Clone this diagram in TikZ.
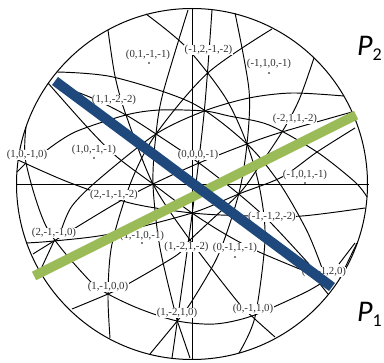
\documentclass[tikz,border=0pt]{standalone}
\usepackage{fontspec}
\setmainfont{Liberation Serif}
\newfontfamily\plane{Carlito}
\definecolor{blue1}{HTML}{1F497D}
\definecolor{green1}{HTML}{9BBB59}
\tikzset{
  arc/.style={draw=black,line width=0.95pt,smooth,tension=0.5},
  lab/.style={fill=white,text=black!80,font=\fontsize{10.8}{10.8}\selectfont,inner sep=0.3pt,text height=7pt,text depth=2pt},
  pt/.style={fill=black,circle,inner sep=0pt,minimum size=1.6pt},
  plane/.style={font=\fontsize{30}{30}\selectfont\plane,inner sep=0pt,text=black},
  blueband/.style={draw=blue1,line width=10pt},
  greenband/.style={draw=green1,line width=9.5pt}
}
\begin{document}
\begin{tikzpicture}[x=1pt,y=-1pt]
\useasboundingbox (0,0) rectangle (384,363);
\draw[line width=1pt] (192,184) circle[radius=175.5];
% straight axes
\draw[line width=1pt] (17,184.5) -- (369,184.5);
\draw[line width=1pt] (192.5,8.5) -- (192.5,359.5);
% arcs
\draw[arc] plot coordinates {(235,13)(249,90)(247,144)(238.7,194)(218.7,254)(192,301)(177.3,321)};
\draw[arc] plot coordinates {(212,10)(204.3,111)(192.3,212.7)(177.3,321)(172,358)};
\draw[arc] plot coordinates {(108,30)(115,76)(126,115)(153,184)(190,240)(237,301)(252.7,317)(275,337)};
\draw[arc] plot coordinates {(47,150)(75,132)(126,115)(160,110)(204.3,111)(229,116)(269,125)(317,152)(355,182)(367,197)};
\draw[arc] plot coordinates {(57,72)(113,77)(192,103)(247,144)(280,184)(307,231)(322,268)};
\draw[arc] plot coordinates {(146,14)(186,47)(225,97)(247,144)(260,190)(265,240)(255,317)(239,353)};
\draw[arc] plot coordinates {(188,10)(163,93)(156,134)(153,184)(160,248)(177.3,321)};
\draw[arc] plot coordinates {(272,29)(207.7,73)(156,134)(131,182)(112,244)(108,294)(110,338)};
\draw[arc] plot coordinates {(62,228)(72,206)(98,180)(156,134)(204.3,111)(249,98)(292,93)(344,96)};
\draw[arc] plot coordinates {(48,83)(88,128)(117,157)(153,184)(192,213)(225,234)(257,251)(302,270)};
\draw[arc] plot coordinates {(58,85)(92,98)(126,115)(156,134)(199,163)(238.7,194)(269,221)(309,264)};
\draw[arc] plot coordinates {(352,112)(282,132)(247,144)(199,163)(153,184)(115,204)(54,241)(33,254)};
\draw[arc] plot coordinates {(26,243)(54,241)(110,234)(192,213)(238.7,194)(282,177)(317,152)(355,128)};
\draw[arc] plot coordinates {(18,160)(68,182)(130,203)(192,213)(249,216)(302,216)(365,208)};
\draw[arc] plot coordinates {(26,127)(26,163)(47,228)(88,279)(108,294)(140,309)(177.3,321)(215,324)(252,316)(302,294)(320,284)};
\draw[arc] plot coordinates {(314,58)(299,100)(282,132)(258,168)(238.7,194)(190,240)(177,255)(128,284)(108,294)(72,309)};
% short spokes
\draw[arc] plot coordinates {(26,163)(17,172)};
\draw[arc] plot coordinates {(54,241)(41,269)};
\draw[arc] plot coordinates {(177.3,321)(150,354)};
\draw[arc] plot coordinates {(177.3,321)(190,358)};
\draw[arc] plot coordinates {(339,264)(355,243)};
\draw[arc] plot coordinates {(357,243)(340,278)};
\draw[arc] plot coordinates {(320,284)(328,294)};
% labels
\node[lab] (l1) at (148,55) {(0,1,-1,-1)};
\node[lab] (l2) at (208.5,50) {(-1,2,-1,-2)};
\node[lab] (l3) at (269,64) {(-1,1,0,-1)};
\node[lab] (l4) at (114,100) {(1,1,-2,-2)};
\node[lab] (l5) at (295,119) {(-2,1,1,-2)};
\node[lab] (l6) at (27,155) {(1,0,-1,0)};
\node[lab] (l7) at (94,150) {(1,0,-1,-1)};
\node[lab] (l8) at (198,155) {(0,0,0,-1)};
\node[lab] (l9) at (305,175) {(-1,0,1,-1)};
\node[lab] (l10) at (114,195) {(2,-1,-1,-2)};
\node[lab] (l11) at (54,233) {(2,-1,-1,0)};
\node[lab] (l12) at (142,236) {(1,-1,0,-1)};
\node[lab] (l13) at (186.5,247) {(1,-2,1,-2)};
\node[lab] (l14) at (235,248) {(0,-1,1,-1)};
\node[lab] (l15) at (272,217) {(-1,-1,2,-2)};
\node[lab] (l16) at (324,272) {(-1,-1,2,0)};
\node[lab] (l17) at (108,287) {(1,-1,0,0)};
\node[lab] (l18) at (177,313) {(1,-2,1,0)};
\node[lab] (l19) at (253,309) {(0,-1,1,0)};
% dots
\node[pt] (d1) at (149,63) {};
\node[pt] (d2) at (269,73) {};
\node[pt] (d3) at (94,158) {};
\node[pt] (d4) at (142,243) {};
\node[pt] (d5) at (235,257) {};
\node[pt] (d6) at (305,183) {};
% bands
\coordinate (b1) at (55,81);
\coordinate (b2) at (332,287);
\coordinate (g1) at (34,276);
\coordinate (g2) at (356,115);
\draw[greenband] (g1) -- (g2);
\draw[blueband] (b1) -- (b2);
\node[plane] (p2) at (369.5,48) {\textit{P}\raisebox{-5pt}{\fontsize{18}{18}\selectfont 2}};
\node[plane] (p1) at (369.5,314) {\textit{P}\raisebox{-5pt}{\fontsize{18}{18}\selectfont 1}};
\end{tikzpicture}
\end{document}
